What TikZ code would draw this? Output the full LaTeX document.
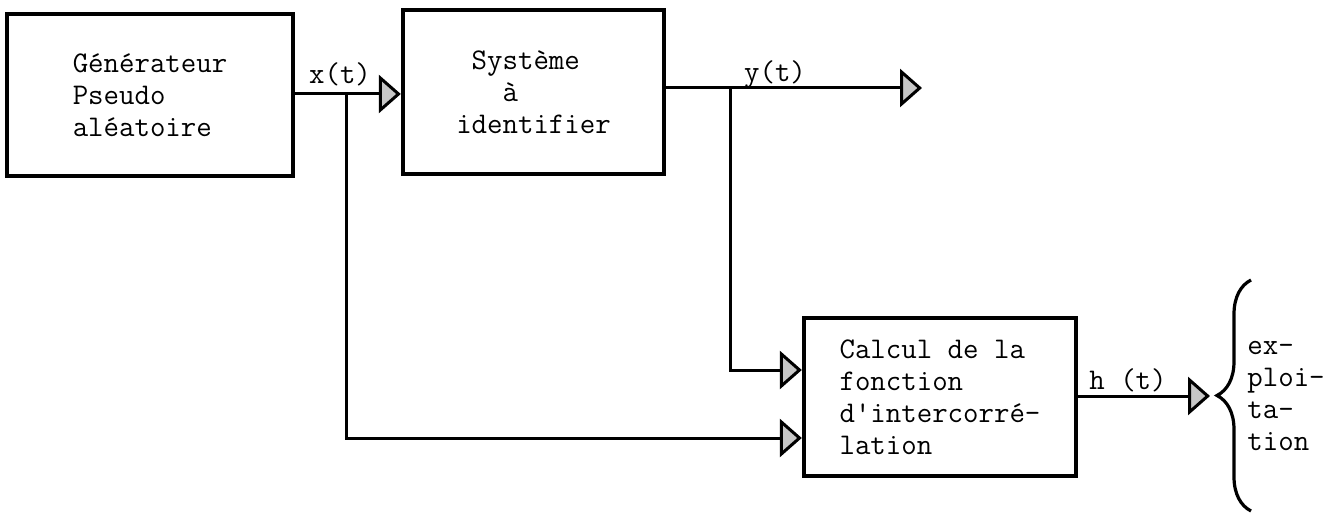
\documentclass[tikz,border=0pt]{standalone}
\usetikzlibrary{positioning,arrows.meta}
\usetikzlibrary{decorations.pathreplacing}
\tikzstyle{bloc} = [draw,line width=2.2pt,align=left,inner sep=0pt]
\tikzstyle{lien} = [line width=1.5pt]
\tikzstyle{flow} = [lien,-{Triangle[length=11pt,width=19pt,fill=gray!45]}]
\tikzstyle{etiq} = [inner sep=0pt]

\begin{document}
\begin{tikzpicture}[x=0.5pt,y=-0.5pt,font=\fontsize{15}{16}\selectfont\ttfamily]
\useasboundingbox (0,0) rectangle (1343,513);

\node[bloc,minimum width=143pt,minimum height=81pt] (gen) at (150,95) {Générateur\\Pseudo\\aléatoire};
\node[bloc,minimum width=130.5pt,minimum height=82pt] (sys) at (533.5,92) {\hphantom{i}Système\\\hphantom{iii}à\\identifier};
\node[bloc,minimum width=136pt,minimum height=79pt] (calc) at (940,397) {Calcul de la\\fonction\\d'intercorré-\\lation};

\coordinate (xt) at (346,94);
\coordinate (b_1) at (346,438);
\coordinate (yt) at (730,88);
\coordinate (b_2) at (730,370);
\coordinate (yend) at (922,88);
\coordinate (hend) at (1210,396);

\draw[flow] (gen.east |- xt) -- (sys.west |- xt);
\draw[flow] (xt) -- (b_1) -- (calc.west |- b_1);
\draw[flow] (sys.east |- yt) -- (yend);
\draw[flow] (yt) -- (b_2) -- (calc.west |- b_2);
\draw[flow] (calc.east |- hend) -- (hend);

\node[etiq] (xlab) at (340,74) {x(t)};
\node[etiq] (ylab) at (775,75) {y(t)};
\node[etiq] (hlab) at (1128,380) {h (t)};

% accolade
\draw[line width=1.6pt,decorate,decoration={brace,amplitude=17pt,aspect=0.5}] (1251,511) -- (1251,280);
\node[etiq,anchor=west,align=left] (expl) at (1247,396) {ex-\\ploi-\\ta-\\tion};

\end{tikzpicture}
\end{document}
